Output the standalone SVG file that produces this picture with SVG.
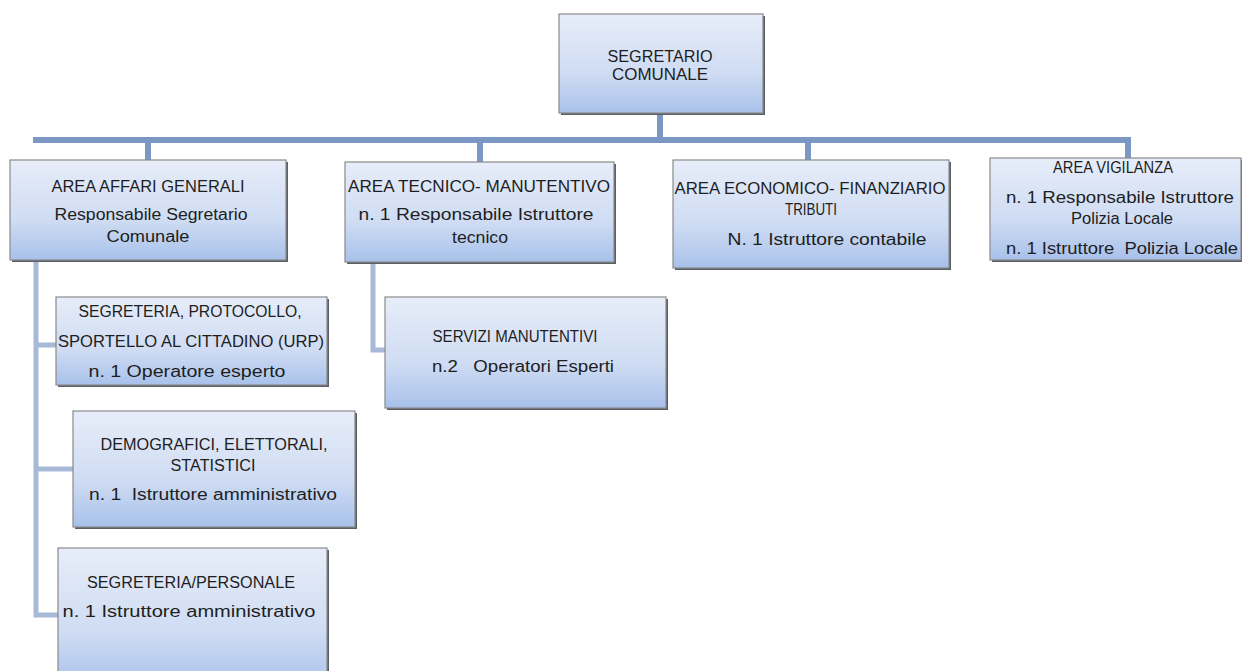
<svg xmlns="http://www.w3.org/2000/svg" width="1242" height="671" viewBox="0 0 1242 671">
<defs>
<linearGradient id="g" x1="0" y1="0" x2="0" y2="1">
<stop offset="0" stop-color="#e7edf9"/>
<stop offset="0.6" stop-color="#cfdcf3"/>
<stop offset="1" stop-color="#a8c1ea"/>
</linearGradient>
<style>
.box{fill:url(#g);stroke:#8a8a8a;stroke-width:1.2}
.sh{fill:#5a5f66}
.t{font-family:"Liberation Sans",Arial,sans-serif;font-size:16px;fill:#1e1e1e;text-anchor:middle}
.main{stroke:#7b97c4;stroke-width:6;fill:none}
.sub{stroke:#a8b9d8;stroke-width:5;fill:none}
</style>
</defs>
<rect width="1242" height="671" fill="#ffffff"/>
<g id="connectors">
<path class="main" d="M660,113 V140 M33,140 H1131 M148,140 V160 M480,140 V162 M808,140 V160 M1128,140 V158"/>
<path class="sub" d="M36,260 V615 H58 M36,345 H56 M36,469 H73"/>
<path class="sub" d="M373,262 V350 H385"/>
</g>
<g id="segretario">
<rect class="sh" x="561" y="16" width="204" height="99"/>
<rect class="box" x="559" y="14" width="204" height="99"/>
<text class="t" x="660" y="62" textLength="105" lengthAdjust="spacingAndGlyphs">SEGRETARIO</text>
<text class="t" x="660" y="80" textLength="96" lengthAdjust="spacingAndGlyphs">COMUNALE</text>
</g>
<g id="affari">
<rect class="sh" x="12" y="162" width="276" height="100"/>
<rect class="box" x="10" y="160" width="276" height="100"/>
<text class="t" x="148" y="192" textLength="193" lengthAdjust="spacingAndGlyphs">AREA AFFARI GENERALI</text>
<text class="t" x="151" y="220" textLength="193" lengthAdjust="spacingAndGlyphs">Responsabile Segretario</text>
<text class="t" x="148" y="242" textLength="83" lengthAdjust="spacingAndGlyphs">Comunale</text>
</g>
<g id="tecnico">
<rect class="sh" x="347" y="164" width="269" height="100"/>
<rect class="box" x="345" y="162" width="269" height="100"/>
<text class="t" x="479" y="192" textLength="262" lengthAdjust="spacingAndGlyphs">AREA TECNICO- MANUTENTIVO</text>
<text class="t" x="476" y="220" textLength="235" lengthAdjust="spacingAndGlyphs">n. 1 Responsabile Istruttore</text>
<text class="t" x="480" y="243" textLength="56" lengthAdjust="spacingAndGlyphs">tecnico</text>
</g>
<g id="economico">
<rect class="sh" x="675" y="162" width="276" height="108"/>
<rect class="box" x="673" y="160" width="276" height="108"/>
<text class="t" x="810" y="194" textLength="271" lengthAdjust="spacingAndGlyphs">AREA ECONOMICO- FINANZIARIO</text>
<text class="t" x="811" y="215" textLength="52" lengthAdjust="spacingAndGlyphs">TRIBUTI</text>
<text class="t" x="827" y="245" textLength="199" lengthAdjust="spacingAndGlyphs">N. 1 Istruttore contabile</text>
</g>
<g id="vigilanza">
<rect class="sh" x="992" y="160" width="252" height="102"/>
<rect class="box" x="990" y="158" width="251" height="102"/>
<text class="t" x="1113" y="173" textLength="120" lengthAdjust="spacingAndGlyphs">AREA VIGILANZA</text>
<text class="t" x="1120" y="203" textLength="228" lengthAdjust="spacingAndGlyphs">n. 1 Responsabile Istruttore</text>
<text class="t" x="1122" y="224" textLength="102" lengthAdjust="spacingAndGlyphs">Polizia Locale</text>
<text class="t" x="1122" y="254" textLength="232" lengthAdjust="spacingAndGlyphs" xml:space="preserve">n. 1 Istruttore  Polizia Locale</text>
</g>
<g id="protocollo">
<rect class="sh" x="58" y="299" width="271" height="88"/>
<rect class="box" x="56" y="297" width="271" height="88"/>
<text class="t" x="190" y="317" textLength="223" lengthAdjust="spacingAndGlyphs">SEGRETERIA, PROTOCOLLO,</text>
<text class="t" x="191" y="347" textLength="266" lengthAdjust="spacingAndGlyphs">SPORTELLO AL CITTADINO (URP)</text>
<text class="t" x="187" y="377" textLength="197" lengthAdjust="spacingAndGlyphs">n. 1 Operatore esperto</text>
</g>
<g id="servizi">
<rect class="sh" x="387" y="299" width="281" height="111"/>
<rect class="box" x="385" y="297" width="281" height="111"/>
<text class="t" x="515" y="342" textLength="165" lengthAdjust="spacingAndGlyphs">SERVIZI MANUTENTIVI</text>
<text class="t" x="523" y="372" textLength="182" lengthAdjust="spacingAndGlyphs" xml:space="preserve">n.2   Operatori Esperti</text>
</g>
<g id="demografici">
<rect class="sh" x="75" y="413" width="282" height="116"/>
<rect class="box" x="73" y="411" width="282" height="116"/>
<text class="t" x="214" y="450" textLength="227" lengthAdjust="spacingAndGlyphs">DEMOGRAFICI, ELETTORALI,</text>
<text class="t" x="213" y="471" textLength="85" lengthAdjust="spacingAndGlyphs">STATISTICI</text>
<text class="t" x="213" y="500" textLength="248" lengthAdjust="spacingAndGlyphs" xml:space="preserve">n. 1  Istruttore amministrativo</text>
</g>
<g id="personale">
<rect class="sh" x="60" y="550" width="269" height="140"/>
<rect class="box" x="58" y="548" width="269" height="140"/>
<text class="t" x="191" y="588" textLength="208" lengthAdjust="spacingAndGlyphs">SEGRETERIA/PERSONALE</text>
<text class="t" x="189" y="617" textLength="253" lengthAdjust="spacingAndGlyphs">n. 1 Istruttore amministrativo</text>
</g>
</svg>
